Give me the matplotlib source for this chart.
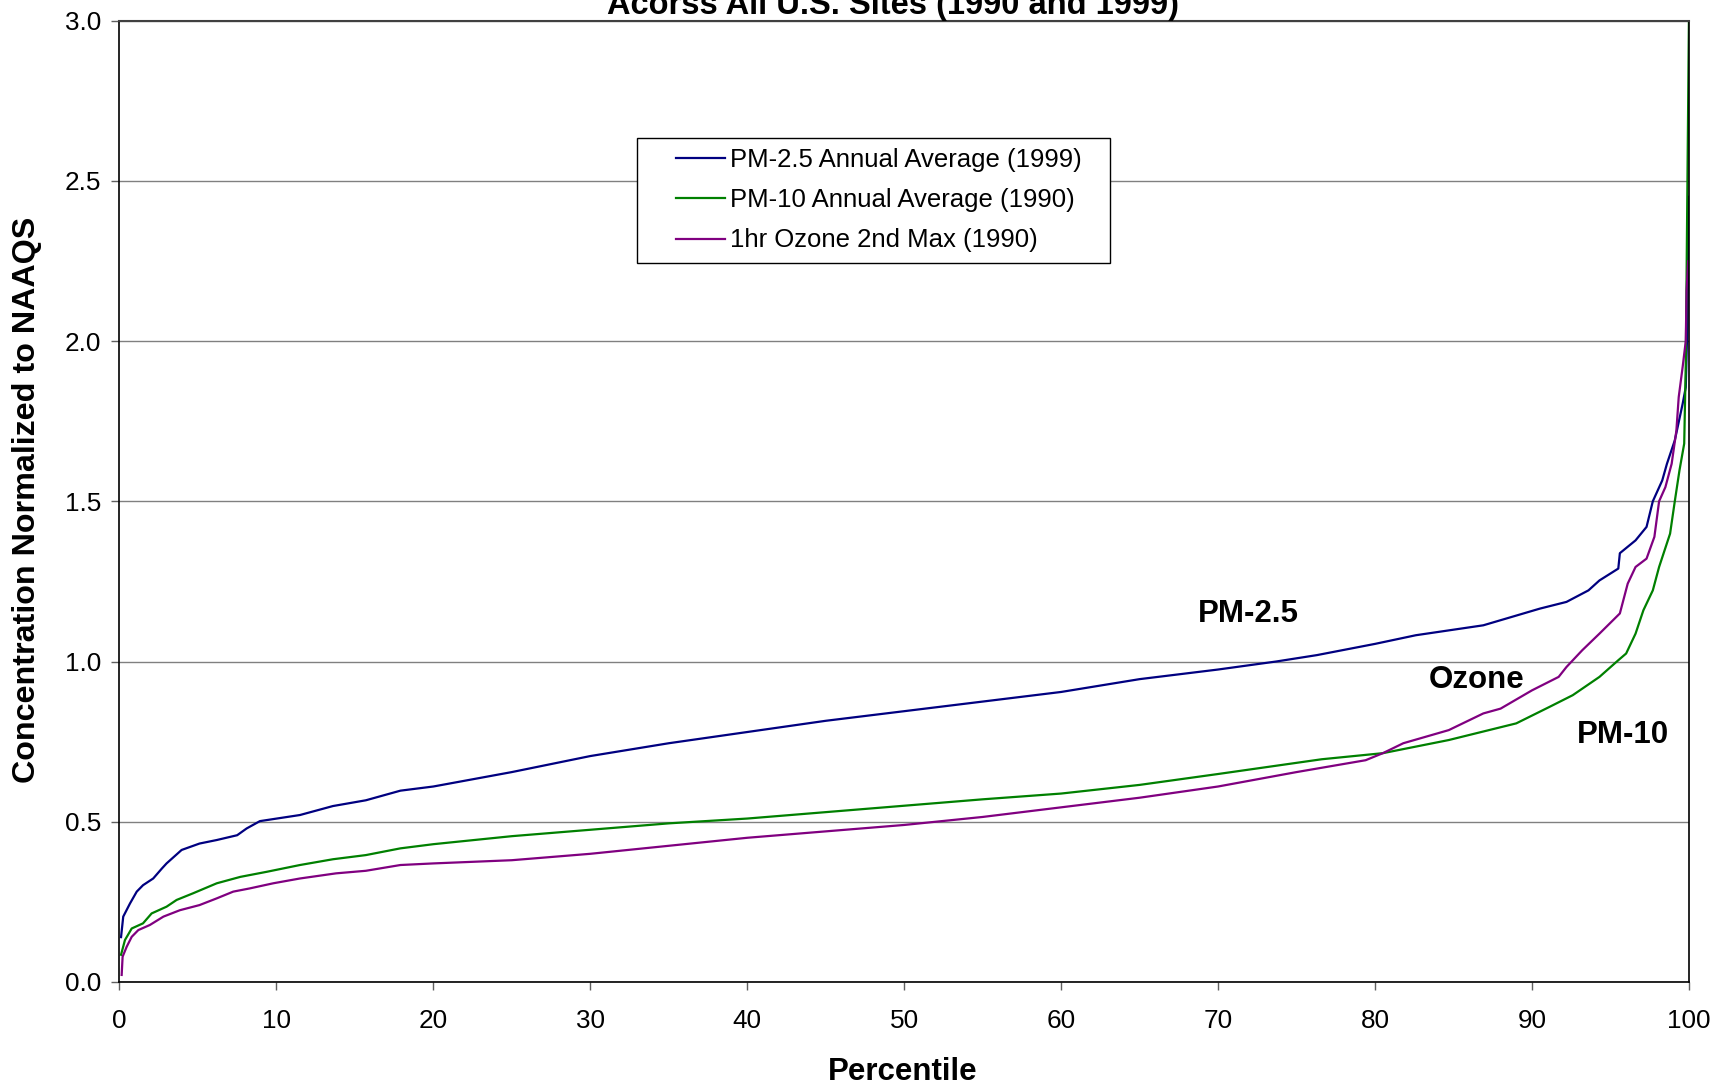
import matplotlib
matplotlib.use('Agg')
import matplotlib.pyplot as plt
from matplotlib.patches import Rectangle
from matplotlib.transforms import IdentityTransform

matplotlib.rcParams['font.family'] = 'sans-serif'
matplotlib.rcParams['font.sans-serif'] = ['Liberation Sans', 'Arial', 'DejaVu Sans']

# PM-2.5 annual average (1999): percentile -> concentration / NAAQS
pm25_pct = [0.1, 0.24, 0.67, 1.1, 1.5, 2.15, 2.7, 3.0, 3.96, 5.1, 6.2, 7.5, 8.1, 8.95,
            11.5, 13.6, 15.7, 17.9, 20, 25, 30, 35, 40, 45, 50, 55, 60, 65, 70, 73.7,
            76.3, 80, 82.6, 86.9, 90.5, 92.2, 93.6, 94.3, 95.5, 95.6, 96.6, 97.3, 97.7,
            98.3, 98.6, 99.1, 99.6, 99.8, 99.9, 100]
pm25_val = [0.14, 0.204, 0.245, 0.282, 0.302, 0.323, 0.354, 0.37, 0.412, 0.432, 0.443,
            0.458, 0.479, 0.502, 0.521, 0.549, 0.567, 0.597, 0.61, 0.655, 0.705, 0.745,
            0.78, 0.815, 0.845, 0.875, 0.905, 0.945, 0.975, 1.0, 1.02, 1.055, 1.082,
            1.113, 1.165, 1.186, 1.222, 1.253, 1.29, 1.338, 1.378, 1.42, 1.5, 1.565,
            1.617, 1.69, 1.804, 1.856, 2.05, 2.45]

# PM-10 annual average (1990)
pm10_pct = [0.1, 0.35, 0.78, 1.5, 2.05, 3.0, 3.64, 4.7, 6.2, 7.7, 9.4, 11.5, 13.6, 15.7,
            17.9, 20, 25, 30, 35, 40, 45, 50, 55, 60, 65, 70, 76.6, 80.5, 84.7, 89.0,
            91.1, 92.6, 94.3, 95.5, 96.0, 96.6, 97.1, 97.7, 98.1, 98.8, 99.1, 99.4,
            99.7, 99.8, 100]
pm10_val = [0.085, 0.131, 0.167, 0.183, 0.214, 0.235, 0.256, 0.277, 0.308, 0.328, 0.344,
            0.365, 0.383, 0.396, 0.417, 0.43, 0.455, 0.475, 0.495, 0.51, 0.53, 0.55,
            0.57, 0.588, 0.615, 0.649, 0.695, 0.714, 0.755, 0.807, 0.858, 0.895, 0.952,
            1.004, 1.025, 1.087, 1.16, 1.222, 1.295, 1.399, 1.5, 1.597, 1.68, 1.93, 3.0]

# 1hr ozone 2nd max (1990)
ozone_pct = [0.14, 0.2, 0.46, 0.78, 1.2, 1.94, 2.8, 3.85, 5.1, 6.2, 7.25, 8.3, 9.8, 11.5,
             13.8, 15.7, 17.9, 20, 25, 30, 35, 40, 45, 50, 55, 60, 65, 70, 75, 79.4,
             80.5, 81.8, 84.7, 86.9, 88.0, 90.0, 91.7, 92.2, 93.2, 94.3, 95.6, 96.1,
             96.6, 97.3, 97.8, 98.1, 98.5, 98.9, 99.2, 99.35, 99.6, 99.8, 99.85, 99.95, 100]
ozone_val = [0.022, 0.079, 0.11, 0.141, 0.162, 0.178, 0.204, 0.224, 0.24, 0.261, 0.282,
             0.292, 0.308, 0.323, 0.339, 0.347, 0.365, 0.37, 0.38, 0.40, 0.425, 0.45,
             0.47, 0.49, 0.515, 0.545, 0.575, 0.61, 0.655, 0.692, 0.714, 0.745, 0.786,
             0.838, 0.853, 0.91, 0.952, 0.983, 1.035, 1.087, 1.15, 1.243, 1.295, 1.321,
             1.389, 1.5, 1.544, 1.617, 1.72, 1.825, 1.919, 2.0, 2.158, 2.25, 2.25]

series_labels = ['PM-2.5 Annual Average (1999)', 'PM-10 Annual Average (1990)',
                 '1hr Ozone 2nd Max (1990)']
series_colors = ['#000080', '#008000', '#800080']

# in-plot annotations (text, percentile, value)
annotations = [('PM-2.5', 71.9, 1.148), ('Ozone', 86.5, 0.942), ('PM-10', 95.8, 0.770)]

fig = plt.figure(figsize=(17.19, 10.87), dpi=100)
ax = fig.add_axes([0.0695, 0.0966, 0.9130, 0.8845])

ax.plot(pm25_pct, pm25_val, color=series_colors[0], lw=1.6, label=series_labels[0])
ax.plot(pm10_pct, pm10_val, color=series_colors[1], lw=1.6, label=series_labels[1])
ax.plot(ozone_pct, ozone_val, color=series_colors[2], lw=1.6, label=series_labels[2])

for txt, x, y in annotations:
    ax.text(x, y, txt, fontsize=22.5, fontweight='bold', ha='center', va='center')

ax.set_xlim(0, 100)
ax.set_ylim(0, 3.0)
ax.set_xticks(range(0, 101, 10))
ax.set_yticks([0, 0.5, 1.0, 1.5, 2.0, 2.5, 3.0])
ax.set_yticklabels(['0.0', '0.5', '1.0', '1.5', '2.0', '2.5', '3.0'])
ax.yaxis.grid(True, color='#808080', lw=1.0)
ax.set_axisbelow(True)
ax.tick_params(axis='both', direction='out', length=6, width=1, color='#606060',
               labelsize=18.8)
ax.tick_params(axis='y', pad=7)
ax.tick_params(axis='x', pad=13.5)

for side in ['left', 'bottom', 'right']:
    ax.spines[side].set_color('black')
    ax.spines[side].set_linewidth(1.2)
ax.spines['top'].set_color('#404040')
ax.spines['top'].set_linewidth(1.5)

ax.set_xlabel('Percentile', fontsize=22.5, fontweight='bold', va='center')
ax.xaxis.set_label_coords(0.499, -0.0936)
ax.set_ylabel('Concentration Normalized to NAAQS', fontsize=23.2, fontweight='bold',
              va='center')
ax.yaxis.set_label_coords(-0.0589, 0.501)

# title line, top of it runs off the page like the original
fig.text(0.5195, 0.9870, 'Acorss All U.S. Sites (1990 and 1999)', fontsize=23.5,
         fontweight='bold', ha='center', va='baseline')

leg = ax.legend(loc='upper left', bbox_to_anchor=(0.348, 0.878), borderaxespad=0,
                frameon=False, fontsize=18.5, handlelength=1.9, handletextpad=0.2,
                borderpad=0.4, labelspacing=0.63)
leg.set_zorder(6)

# Excel-style legend box with wider side padding
fig.canvas.draw()
bb = leg.get_window_extent()
box = Rectangle((bb.x0 - 29, bb.y0), bb.width + 47, bb.height,
                transform=IdentityTransform(), facecolor='white', edgecolor='black',
                lw=1.0, zorder=5.5)
ax.add_artist(box)

fig.savefig('out.png', dpi=100)
